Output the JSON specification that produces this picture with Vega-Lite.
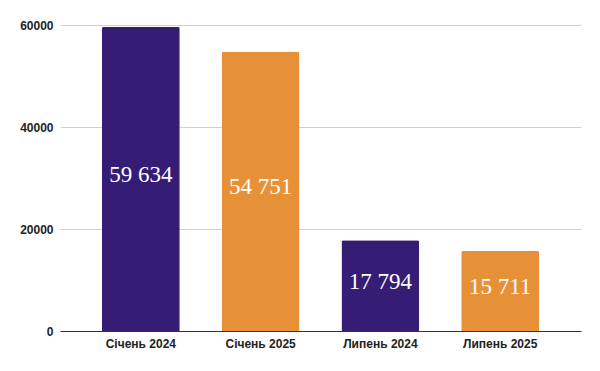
{
  "$schema": "https://vega.github.io/schema/vega-lite/v6.json",
  "autosize": {"type": "none"},
  "width": 521,
  "height": 306,
  "padding": {"left": 60, "top": 25, "right": 19, "bottom": 40},
  "background": "#ffffff",
  "config": {"view": {"stroke": null}},
  "data": {
    "values": [
      {"period": "Січень 2024", "value": 59634, "label": "59 634", "year": "2024"},
      {"period": "Січень 2025", "value": 54751, "label": "54 751", "year": "2025"},
      {"period": "Липень 2024", "value": 17794, "label": "17 794", "year": "2024"},
      {"period": "Липень 2025", "value": 15711, "label": "15 711", "year": "2025"}
    ]
  },
  "encoding": {
    "x": {
      "field": "period",
      "type": "nominal",
      "sort": null,
      "scale": {"paddingInner": 0.35, "paddingOuter": 0.35},
      "axis": {
        "title": null,
        "labelAngle": 0,
        "labelFont": "Liberation Sans",
        "labelFontWeight": "bold",
        "labelFontSize": 12,
        "labelColor": "#222222",
        "labelPadding": 7,
        "ticks": false,
        "domainColor": "#333333",
        "domainWidth": 1,
        "grid": false
      }
    }
  },
  "layer": [
    {
      "mark": {"type": "bar", "cornerRadiusTopLeft": 2, "cornerRadiusTopRight": 2},
      "encoding": {
        "y": {
          "field": "value",
          "type": "quantitative",
          "scale": {"domain": [0, 60000], "nice": false},
          "axis": {
            "title": null,
            "values": [0, 20000, 40000, 60000],
            "format": "d",
            "labelFont": "Liberation Sans",
            "labelFontWeight": "bold",
            "labelFontSize": 12,
            "labelColor": "#222222",
            "labelPadding": 7,
            "ticks": false,
            "domain": false,
            "grid": true,
            "gridColor": "#d0d0d0",
            "gridWidth": 1
          }
        },
        "color": {
          "field": "year",
          "type": "nominal",
          "scale": {"domain": ["2024", "2025"], "range": ["#351c75", "#e69138"]},
          "legend": null
        }
      }
    },
    {
      "transform": [{"calculate": "datum.value / 2", "as": "mid"}],
      "mark": {
        "type": "text",
        "font": "Liberation Serif",
        "fontSize": 23,
        "color": "#ffffff",
        "baseline": "middle",
        "align": "center",
        "dy": -4
      },
      "encoding": {
        "y": {"field": "mid", "type": "quantitative", "scale": {"domain": [0, 60000], "nice": false}},
        "text": {"field": "label"}
      }
    }
  ]
}
